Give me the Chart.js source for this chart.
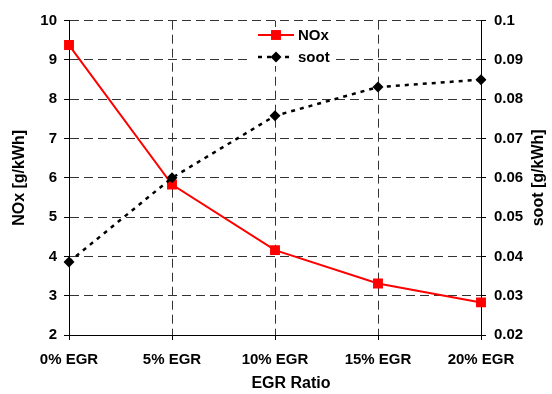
<!DOCTYPE html>
<html>
<head>
<meta charset="utf-8">
<script src="https://cdn.jsdelivr.net/npm/chart.js@4.4.1/dist/chart.umd.min.js"></script>
<style>
  html, body { margin: 0; padding: 0; background: #fff; }
</style>
</head>
<body>
<canvas id="egrChart" width="552" height="394"></canvas>
<script>
// === data ===
const egrLabels = ["0% EGR", "5% EGR", "10% EGR", "15% EGR", "20% EGR"];
const noxValues = [9.38, 5.83, 4.16, 3.31, 2.83];
const sootValues = [0.0386, 0.060, 0.0758, 0.0831, 0.085];

Chart.defaults.font.family = "'Liberation Sans', Arial, sans-serif";
Chart.defaults.font.weight = "bold";
Chart.defaults.color = "#000";

const gridDash = [9, 5];

// legend drawn inside the plot, with a white box behind it
const insideLegend = {
  id: "insideLegend",
  afterDraw(chart) {
    const ctx = chart.ctx;
    ctx.save();
    ctx.fillStyle = "#fff";
    ctx.fillRect(252, 27, 81, 39);
    chart.data.datasets.forEach((ds, i) => {
      const y = 35 + i * 22;
      ctx.strokeStyle = ds.borderColor;
      ctx.lineWidth = ds.borderWidth;
      ctx.setLineDash(ds.borderDash || []);
      ctx.beginPath();
      ctx.moveTo(258, y);
      ctx.lineTo(294, y);
      ctx.stroke();
      ctx.setLineDash([]);
      ctx.fillStyle = ds.pointBackgroundColor;
      const r = ds.pointRadius;
      ctx.beginPath();
      if (ds.pointStyle === "rect") {
        const s = r * Math.SQRT1_2;
        ctx.rect(276 - s, y - s, 2 * s, 2 * s);
      } else {
        ctx.moveTo(276 - r, y);
        ctx.lineTo(276, y - r);
        ctx.lineTo(276 + r, y);
        ctx.lineTo(276, y + r);
        ctx.closePath();
      }
      ctx.fill();
      ctx.fillStyle = "#000";
      ctx.font = "bold 15px 'Liberation Sans', Arial, sans-serif";
      ctx.textAlign = "left";
      ctx.textBaseline = "middle";
      ctx.fillText(ds.label, 298, y + 1);
    });
    ctx.restore();
  }
};

// axis titles
const axisTitles = {
  id: "axisTitles",
  afterDraw(chart) {
    const ctx = chart.ctx;
    const a = chart.chartArea;
    const midY = (a.top + a.bottom) / 2;
    const font = "bold 16px 'Liberation Sans', Arial, sans-serif";
    ctx.save();
    ctx.fillStyle = "#000";
    ctx.font = font;
    ctx.textAlign = "center";
    ctx.textBaseline = "middle";
    ctx.fillText("EGR Ratio", 291, 384);
    ctx.translate(20, midY);
    ctx.rotate(-Math.PI / 2);
    ctx.fillText("NOx [g/kWh]", 0, 0);
    ctx.restore();
    ctx.save();
    ctx.fillStyle = "#000";
    ctx.font = font;
    ctx.textAlign = "center";
    ctx.textBaseline = "middle";
    ctx.translate(539, midY);
    ctx.rotate(-Math.PI / 2);
    ctx.fillText("soot [g/kWh]", 0, 0);
    ctx.restore();
  }
};

new Chart(document.getElementById("egrChart"), {
  type: "line",
  data: {
    labels: egrLabels,
    datasets: [
      {
        label: "NOx",
        data: noxValues,
        yAxisID: "y",
        borderColor: "#ff0000",
        borderWidth: 2,
        pointStyle: "rect",
        pointRadius: 7,
        pointBackgroundColor: "#ff0000",
        pointBorderWidth: 0,
        tension: 0,
        order: 2
      },
      {
        label: "soot",
        data: sootValues,
        yAxisID: "y1",
        borderColor: "#000",
        borderWidth: 2.5,
        borderDash: [4, 5],
        pointStyle: "rectRot",
        pointRadius: 5.5,
        pointBackgroundColor: "#000",
        pointBorderWidth: 0,
        tension: 0,
        order: 1
      }
    ]
  },
  options: {
    responsive: false,
    animation: false,
    layout: { padding: { top: 20.7, left: 0, right: 0, bottom: 0 } },
    plugins: {
      legend: { display: false },
      tooltip: { enabled: false }
    },
    scales: {
      x: {
        type: "category",
        offset: false,
        afterFit: (s) => { s.height = 59; },
        grid: {
          color: "#333",
          tickColor: "#000",
          tickBorderDash: [],
          tickLength: 5
        },
        border: { color: "#000", width: 1, dash: gridDash },
        ticks: { font: { size: 15, weight: "bold" }, padding: 11, maxRotation: 0 }
      },
      y: {
        position: "left",
        min: 2,
        max: 10,
        afterFit: (s) => { s.width = 69; },
        grid: {
          color: "#333",
          tickColor: "#000",
          tickBorderDash: [],
          tickLength: 5
        },
        border: { color: "#000", width: 1, dash: gridDash },
        ticks: { stepSize: 1, font: { size: 15, weight: "bold" }, padding: 7 }
      },
      y1: {
        position: "right",
        min: 0.02,
        max: 0.1,
        afterFit: (s) => { s.width = 71; },
        grid: {
          drawOnChartArea: false,
          tickColor: "#000",
          tickLength: 5
        },
        border: { color: "#000", width: 1 },
        ticks: {
          stepSize: 0.01,
          font: { size: 15, weight: "bold" },
          padding: 8,
          callback: (v) => String(Number(v.toFixed(2)))
        }
      }
    }
  },
  plugins: [insideLegend, axisTitles]
});
</script>
</body>
</html>
